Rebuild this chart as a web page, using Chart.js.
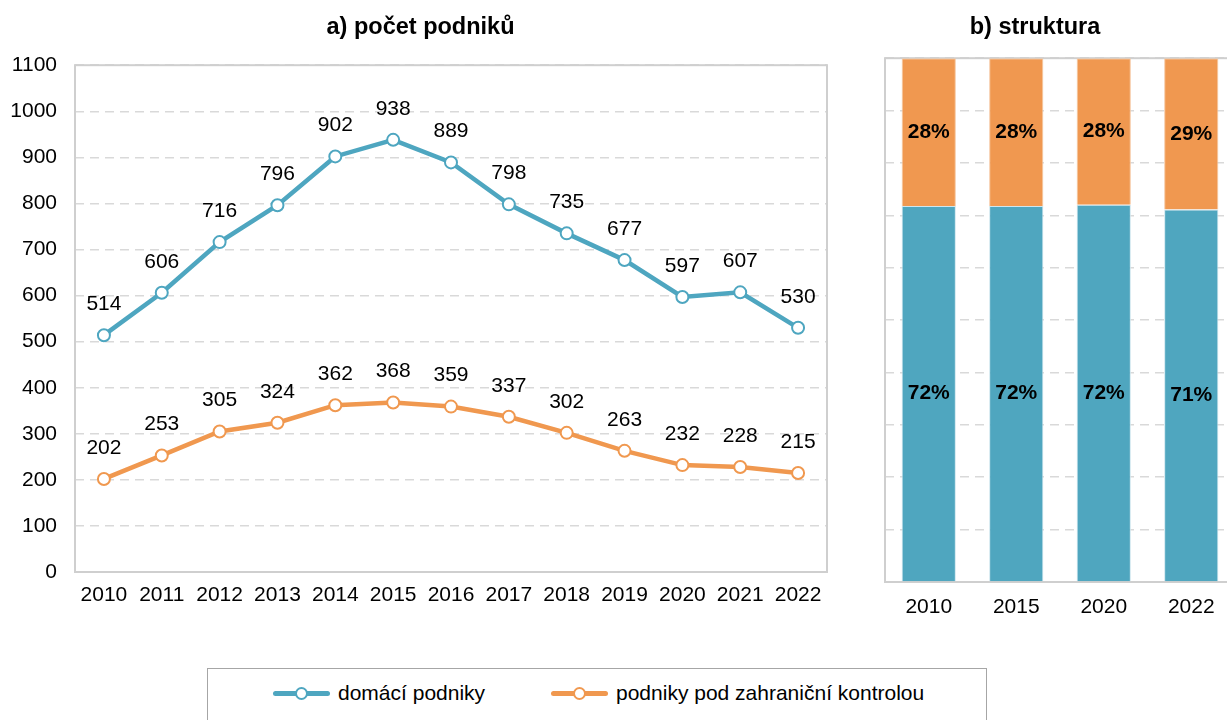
<!DOCTYPE html>
<html>
<head>
<meta charset="utf-8">
<script src="https://cdn.jsdelivr.net/npm/chart.js@4/dist/chart.umd.min.js"></script>
<style>
    body { margin: 0; background: #fff; font-family: "Liberation Sans", Arial, sans-serif; }
    #wrap { position: relative; width: 1227px; height: 720px; overflow: hidden; }
    #boxA { position: absolute; left: 0; top: 0; width: 835px; height: 620px; }
    #boxB { position: absolute; left: 835px; top: 0; width: 400px; height: 632px; }
    #legend {
        position: absolute; left: 207px; top: 668px; width: 780px; height: 80px;
        border: 1.5px solid #a6a6a6; box-sizing: border-box;
    }
    .item { position: absolute; top: 12px; height: 24px; font-size: 21px; line-height: 24px; color: #000; white-space: nowrap; }
    .sym { display: inline-block; position: relative; width: 57px; height: 24px; vertical-align: top; margin-right: 8px; }
    .sym .ln { position: absolute; left: 0; top: 10px; width: 57px; height: 5px; border-radius: 3px; }
    .sym .dot { position: absolute; left: 22px; top: 6px; width: 9px; height: 9px; border-radius: 50%; background: #fff; border: 2px solid; }
</style>
</head>
<body>
<div id="wrap">
    <div id="boxA"><canvas id="lineChart"></canvas></div>
    <div id="boxB"><canvas id="barChart"></canvas></div>
    <div id="legend">
        <div class="item" style="left:65px"><span class="sym"><span class="ln" style="background:#4ea6c0"></span><span class="dot" style="border-color:#4ea6c0"></span></span>domácí podniky</div>
        <div class="item" style="left:343px"><span class="sym"><span class="ln" style="background:#f0984f"></span><span class="dot" style="border-color:#f0984f"></span></span>podniky pod zahraniční kontrolou</div>
    </div>
</div>
<script>
    const years = ['2010', '2011', '2012', '2013', '2014', '2015', '2016', '2017', '2018', '2019', '2020', '2021', '2022'];
    const domestic = [514, 606, 716, 796, 902, 938, 889, 798, 735, 677, 597, 607, 530];
    const foreign = [202, 253, 305, 324, 362, 368, 359, 337, 302, 263, 232, 228, 215];

    const shareYears = ['2010', '2015', '2020', '2022'];
    const shareDomestic = [71.8, 71.8, 72.0, 71.1];
    const shareForeign = [28.2, 28.2, 28.0, 28.9];

    const blue = '#4ea6c0';
    const orange = '#f0984f';
    const font = '"Liberation Sans", Arial, sans-serif';
    const gridColor = '#d9d9d9';

    // frame round the plot area
    const frame = {
        id: 'frame',
        beforeDatasetsDraw(chart) {
            let a = chart.chartArea, ctx = chart.ctx;
            ctx.save();
            ctx.strokeStyle = '#cfcfcf';
            ctx.lineWidth = 2;
            ctx.strokeRect(a.left, a.top, a.right - a.left, a.bottom - a.top);
            ctx.restore();
        }
    };

    const pointLabels = {
        id: 'pointLabels',
        afterDatasetsDraw(chart) {
            let ctx = chart.ctx;
            ctx.save();
            ctx.font = '21px ' + font;
            ctx.fillStyle = '#000';
            ctx.textAlign = 'center';
            ctx.textBaseline = 'middle';
            chart.data.datasets.forEach((ds, i) => {
                chart.getDatasetMeta(i).data.forEach((pt, j) => {
                    ctx.fillText(ds.data[j], pt.x, pt.y - 31);
                });
            });
            ctx.restore();
        }
    };

    const barLabels = {
        id: 'barLabels',
        afterDatasetsDraw(chart) {
            let ctx = chart.ctx;
            ctx.save();
            ctx.font = 'bold 21px ' + font;
            ctx.fillStyle = '#000';
            ctx.textAlign = 'center';
            ctx.textBaseline = 'middle';
            chart.data.datasets.forEach((ds, i) => {
                chart.getDatasetMeta(i).data.forEach((bar, j) => {
                    ctx.fillText(Math.round(ds.data[j]) + '%', bar.x, (bar.y + bar.base) / 2);
                });
            });
            ctx.restore();
        }
    };

    Chart.defaults.font.family = font;
    Chart.defaults.color = '#000';

    new Chart(document.getElementById('lineChart'), {
        type: 'line',
        data: {
            labels: years,
            datasets: [{
                label: 'domácí podniky',
                data: domestic,
                borderColor: blue,
                borderWidth: 4.5,
                pointRadius: 6,
                pointBorderWidth: 2,
                pointBackgroundColor: '#fff',
                pointBorderColor: blue
            }, {
                label: 'podniky pod zahraniční kontrolou',
                data: foreign,
                borderColor: orange,
                borderWidth: 4.5,
                pointRadius: 6,
                pointBorderWidth: 2,
                pointBackgroundColor: '#fff',
                pointBorderColor: orange
            }]
        },
        options: {
            responsive: true,
            maintainAspectRatio: false,
            animation: false,
            layout: { padding: { left: 10, right: 4 } },
            plugins: {
                legend: { display: false },
                tooltip: { enabled: false },
                title: {
                    display: true,
                    text: 'a) počet podniků',
                    font: { size: 23.5, weight: 'bold' },
                    color: '#000',
                    padding: { top: 13, bottom: 24 }
                }
            },
            scales: {
                x: {
                    offset: true,
                    grid: { display: false, drawTicks: false },
                    border: { display: false },
                    ticks: { font: { size: 21 }, padding: 11, maxRotation: 0, autoSkip: false },
                    afterFit: (s) => { s.height = 48; }
                },
                y: {
                    min: 0,
                    max: 1100,
                    ticks: { stepSize: 100, font: { size: 21 }, padding: 18, callback: (v) => String(v) },
                    grid: { color: gridColor, lineWidth: 1.5, drawTicks: false },
                    border: { display: false, dash: [9, 6] },
                    afterFit: (s) => { s.width = 65; }
                }
            }
        },
        plugins: [frame, pointLabels]
    });

    new Chart(document.getElementById('barChart'), {
        type: 'bar',
        data: {
            labels: shareYears,
            datasets: [{
                label: 'domácí podniky',
                data: shareDomestic,
                backgroundColor: '#4fa6bf',
                borderColor: '#cfe6ee',
                borderWidth: 1
            }, {
                label: 'podniky pod zahraniční kontrolou',
                data: shareForeign,
                backgroundColor: '#f09850',
                borderColor: '#f6c9a4',
                borderWidth: 1
            }]
        },
        options: {
            responsive: true,
            maintainAspectRatio: false,
            animation: false,
            plugins: {
                legend: { display: false },
                tooltip: { enabled: false },
                title: {
                    display: true,
                    text: 'b) struktura',
                    font: { size: 23.5, weight: 'bold' },
                    color: '#000',
                    padding: { top: 13, bottom: 17 }
                }
            },
            datasets: { bar: { barPercentage: 0.62, categoryPercentage: 1 } },
            scales: {
                x: {
                    stacked: true,
                    grid: { display: false, drawTicks: false },
                    border: { display: false },
                    ticks: { font: { size: 21 }, padding: 13, maxRotation: 0 },
                    afterFit: (s) => { s.height = 50; }
                },
                y: {
                    stacked: true,
                    min: 0,
                    max: 100,
                    ticks: { display: false, stepSize: 10 },
                    grid: { color: gridColor, lineWidth: 1.5, drawTicks: false },
                    border: { display: false, dash: [9, 6] },
                    afterFit: (s) => { s.width = 50; }
                }
            }
        },
        plugins: [frame, barLabels]
    });
</script>
</body>
</html>
